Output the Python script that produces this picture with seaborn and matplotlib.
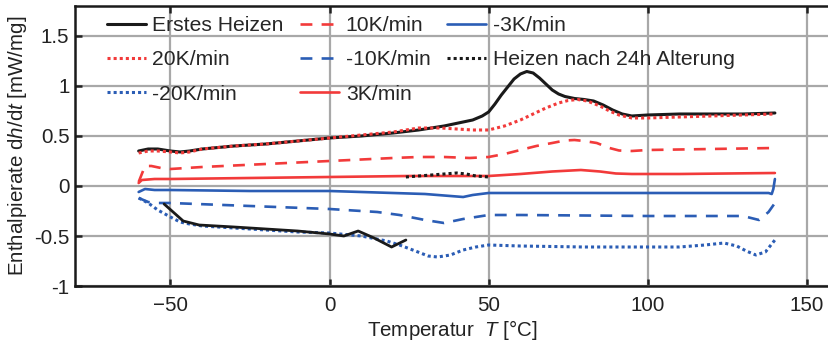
import matplotlib
matplotlib.use("Agg")
import matplotlib.pyplot as plt
import seaborn as sns
import pandas as pd

# ---- data ----
erstes_x = [-60, -57, -54, -50, -47, -44, -40, -30, -20, -10, 0, 10, 20, 28, 36, 42, 45, 48, 50, 52, 54, 56, 58, 60, 62, 64, 66, 68, 70, 72, 74, 77, 80, 83, 86, 89, 92, 95, 100, 110, 120, 130, 140]
erstes_y = [0.35, 0.37, 0.37, 0.35, 0.34, 0.35, 0.37, 0.40, 0.42, 0.45, 0.48, 0.50, 0.53, 0.56, 0.60, 0.64, 0.66, 0.70, 0.74, 0.82, 0.91, 0.99, 1.07, 1.12, 1.145, 1.13, 1.08, 1.02, 0.96, 0.92, 0.895, 0.875, 0.865, 0.85, 0.81, 0.76, 0.72, 0.70, 0.71, 0.72, 0.72, 0.72, 0.73]

erstes2_x = [-52, -46, -41, -30, -20, -10, 0, 4.5, 9, 14, 19.5, 24]
erstes2_y = [-0.18, -0.35, -0.39, -0.41, -0.43, -0.45, -0.48, -0.50, -0.45, -0.52, -0.61, -0.54]

k20_x = [-60, -57, -54, -50, -47, -44, -40, -30, -20, -10, 0, 10, 20, 28, 35, 40, 45, 50, 55, 60, 64, 68, 72, 75, 78, 81, 85, 88, 91, 95, 100, 110, 120, 130, 140]
k20_y = [0.33, 0.35, 0.35, 0.34, 0.33, 0.34, 0.37, 0.40, 0.42, 0.45, 0.48, 0.51, 0.54, 0.58, 0.58, 0.57, 0.56, 0.56, 0.60, 0.66, 0.72, 0.78, 0.83, 0.855, 0.865, 0.85, 0.80, 0.75, 0.71, 0.68, 0.68, 0.69, 0.70, 0.71, 0.72]

k10_x = [-60, -58, -56, -53, -50, -40, -20, 0, 20, 28, 36, 44, 50, 55, 60, 65, 70, 74, 77, 80, 84, 88, 91, 95, 100, 120, 140]
k10_y = [0.04, 0.20, 0.20, 0.18, 0.17, 0.19, 0.22, 0.25, 0.28, 0.29, 0.29, 0.28, 0.29, 0.32, 0.36, 0.40, 0.43, 0.455, 0.46, 0.45, 0.43, 0.38, 0.355, 0.35, 0.36, 0.37, 0.38]

k3_x = [-60, -59, -55, -50, -25, 0, 25, 40, 50, 60, 70, 79, 85, 90, 95, 110, 125, 140]
k3_y = [0.03, 0.06, 0.07, 0.07, 0.08, 0.09, 0.10, 0.10, 0.10, 0.12, 0.145, 0.16, 0.145, 0.125, 0.12, 0.12, 0.125, 0.13]

alt_x = [24, 28, 32, 36, 40, 43, 46, 50]
alt_y = [0.09, 0.10, 0.11, 0.12, 0.13, 0.12, 0.10, 0.09]

m3_x = [-60, -58, -55, -50, -25, 0, 20, 30, 38, 42, 45, 50, 60, 100, 130, 138, 139, 139.5, 140]
m3_y = [-0.06, -0.03, -0.04, -0.04, -0.05, -0.05, -0.07, -0.08, -0.10, -0.11, -0.09, -0.07, -0.07, -0.07, -0.07, -0.07, -0.08, -0.03, 0.07]

m10_x = [-60, -57, -55, -50, -25, 0, 15, 22, 30, 36, 42, 50, 60, 100, 130, 135, 138, 140]
m10_y = [-0.12, -0.16, -0.17, -0.17, -0.20, -0.23, -0.26, -0.29, -0.34, -0.37, -0.33, -0.29, -0.29, -0.30, -0.30, -0.34, -0.26, -0.17]

m20_x = [-60, -57, -54, -50, -47, -44, -40, -30, -20, -10, 0, 10, 18, 22, 27, 31, 34, 38, 42, 46, 50, 60, 80, 100, 110, 118, 124, 128, 131, 134, 137, 140]
m20_y = [-0.12, -0.17, -0.24, -0.31, -0.36, -0.38, -0.40, -0.42, -0.44, -0.46, -0.47, -0.50, -0.55, -0.59, -0.65, -0.70, -0.71, -0.69, -0.64, -0.61, -0.59, -0.60, -0.61, -0.61, -0.61, -0.59, -0.57, -0.60, -0.65, -0.69, -0.66, -0.54]

x_ticks = [-50, 0, 50, 100, 150]
y_ticks = [-1, -0.5, 0, 0.5, 1, 1.5]
y_ticklabels = ["-1", "-0.5", "0", "0.5", "1", "1.5"]

RED = "#f23a3a"
BLUE = "#2b5db5"
BLACK = "#1a1a1a"

sns.set_theme(style="white")
plt.rcParams["font.family"] = ["Liberation Sans", "DejaVu Sans"]
plt.rcParams["mathtext.fontset"] = "custom"
plt.rcParams["mathtext.rm"] = "Liberation Sans"
plt.rcParams["mathtext.it"] = "Liberation Sans:italic"

fig = plt.figure(figsize=(8.29, 3.46), dpi=100)
ax = fig.add_axes([0.0905, 0.1734, 0.9095, 0.8093])

def draw(x, y, color, ls, label, lw=1.9, z=2):
    df = pd.DataFrame({"x": x, "y": y})
    sns.lineplot(data=df, x="x", y="y", color=color, linestyle=ls, lw=lw,
                 label=label, sort=False, estimator=None, ax=ax, zorder=z)

dash = (0, (4.5, 3.5))
dot = (0, (1, 1))

draw(erstes_x, erstes_y, BLACK, "-", "Erstes Heizen", lw=2.2, z=3)
draw(k20_x, k20_y, RED, dot, "20K/min", lw=2.2, z=4)
draw(m20_x, m20_y, BLUE, dot, "-20K/min", lw=2.2)
draw(k10_x, k10_y, RED, dash, "10K/min")
draw(m10_x, m10_y, BLUE, dash, "-10K/min")
draw(k3_x, k3_y, RED, "-", "3K/min")
draw(m3_x, m3_y, BLUE, "-", "-3K/min")
draw(alt_x, alt_y, BLACK, dot, "Heizen nach 24h Alterung", lw=2.2, z=4)
draw(erstes2_x, erstes2_y, BLACK, "-", None, lw=2.0, z=3)

ax.set_xlim(-80, 157)
ax.set_ylim(-1, 1.8)
ax.set_xticks(x_ticks)
ax.set_yticks(y_ticks)
ax.set_yticklabels(y_ticklabels)
ax.grid(True, color="#a8a8a8", lw=1.6)
ax.set_axisbelow(True)
ax.tick_params(axis="both", labelsize=14.8, colors="#222222", direction="in",
               length=5, width=1.8, top=True, bottom=True, left=True, right=False)
ax.tick_params(axis="x", pad=7)
ax.tick_params(axis="y", pad=4)
for s in ["left", "bottom", "top"]:
    ax.spines[s].set_color("#1a1a1a")
    ax.spines[s].set_linewidth(1.8)
ax.spines["right"].set_visible(False)

ax.set_xlabel("Temperatur  $T$ [°C]", fontsize=14.8, color="#222222", labelpad=2)
ax.set_ylabel("Enthalpierate d$h$/d$t$ [mW/mg]", fontsize=14.8, color="#222222", labelpad=4)

h, l = ax.get_legend_handles_labels()
ax.legend(h, l, ncol=3, loc="upper left", bbox_to_anchor=(0.042, 0.964),
          frameon=False, fontsize=15.2, handlelength=1.85, handletextpad=0.3,
          labelspacing=0.73, columnspacing=0.8, borderaxespad=0.0, borderpad=0.0)

fig.savefig("out.png", dpi=100)
